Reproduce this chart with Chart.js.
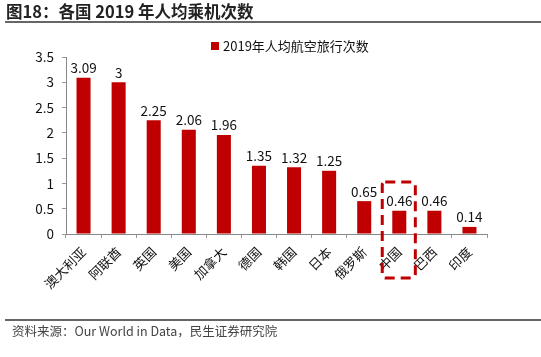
<!DOCTYPE html>
<html>
<head>
<meta charset="utf-8">
<script src="https://cdn.jsdelivr.net/npm/chart.js@4"></script>
<style>
html,body{margin:0;padding:0;background:#fff;}
#wrap{position:relative;width:541px;height:357px;}
</style>
</head>
<body>
<div id="wrap"><canvas id="c" width="541" height="357"></canvas></div>
<script>
const categories = ["澳大利亚","阿联酋","英国","美国","加拿大","德国","韩国","日本","俄罗斯","中国","巴西","印度"];
const values = [3.09, 3, 2.25, 2.06, 1.96, 1.35, 1.32, 1.25, 0.65, 0.46, 0.46, 0.14];
const valueLabels = ["3.09","3","2.25","2.06","1.96","1.35","1.32","1.25","0.65","0.46","0.46","0.14"];
const yTicks = [0, 0.5, 1, 1.5, 2, 2.5, 3, 3.5];
const yTickLabels = ["0","0.5","1","1.5","2","2.5","3","3.5"];
const seriesName = "2019年人均航空旅行次数";
const titleText = "图18：各国 2019 年人均乘机次数";
const sourceText = "资料来源：Our World in Data，民生证券研究院";
const highlight = "中国";

const FONT = '"Noto Sans CJK SC", "Open Sans", sans-serif';
const RED = '#c00000';

const decor = {
  id: 'decor',
  afterDatasetsDraw(chart) {
    const ctx = chart.ctx;
    const meta = chart.getDatasetMeta(0);
    ctx.save();
    // data labels
    ctx.fillStyle = '#111';
    ctx.font = '13.5px ' + FONT;
    ctx.textAlign = 'center';
    ctx.textBaseline = 'bottom';
    meta.data.forEach((bar, i) => {
      ctx.fillText(valueLabels[i], bar.x, bar.y - 3);
    });
    // highlight dashed rectangle
    const hi = categories.indexOf(highlight);
    const x = chart.scales.x;
    const cx = x.getPixelForValue(hi);
    const half = (x.getPixelForValue(1) - x.getPixelForValue(0)) / 2;
    const y = chart.scales.y;
    ctx.strokeStyle = RED;
    ctx.lineWidth = 3;
    ctx.setLineDash([10, 6]);
    const top = y.getPixelForValue(1.03);
    const bottom = y.bottom + 44;
    ctx.beginPath();
    ctx.roundRect(cx - half + 0.5, top, 2 * half - 2, bottom - top, 3);
    ctx.stroke();
    ctx.setLineDash([]);
    // legend
    ctx.fillStyle = RED;
    ctx.fillRect(211, 42, 8, 8);
    ctx.fillStyle = '#111';
    ctx.textAlign = 'left';
    ctx.textBaseline = 'middle';
    ctx.font = '13px ' + FONT;
    ctx.fillText(seriesName, 223, 46);
    // title
    ctx.font = 'bold 16.5px ' + FONT;
    ctx.fillStyle = '#222';
    ctx.textBaseline = 'alphabetic';
    ctx.fillText(titleText, 6, 18);
    ctx.fillStyle = '#666';
    ctx.fillRect(5, 21, 536, 2);
    // footer
    ctx.fillRect(5, 319, 536, 2);
    ctx.font = '12.5px ' + FONT;
    ctx.fillStyle = '#444';
    ctx.textBaseline = 'middle';
    ctx.fillText(sourceText, 12, 331);
    ctx.restore();
  }
};

new Chart(document.getElementById('c'), {
  type: 'bar',
  data: {
    labels: categories,
    datasets: [{
      label: seriesName,
      data: values,
      backgroundColor: RED,
      categoryPercentage: 1,
      barPercentage: 0.4
    }]
  },
  options: {
    responsive: false,
    animation: false,
    layout: { padding: { left: 0, right: 54, top: 57, bottom: 0 } },
    plugins: { legend: { display: false }, tooltip: { enabled: false } },
    scales: {
      x: {
        afterFit(s) { s.height = 123; },
        grid: { drawOnChartArea: false, drawTicks: true, tickLength: 4, color: '#999', offset: true },
        border: { color: '#888', width: 1 },
        ticks: { font: { family: FONT, size: 13 }, color: '#111', minRotation: 45, maxRotation: 45, padding: 6 }
      },
      y: {
        min: 0, max: 3.5,
        afterFit(s) { s.width = 66; },
        afterBuildTicks(s) { s.ticks = yTicks.map(v => ({ value: v })); },
        grid: { drawOnChartArea: false, drawTicks: true, tickLength: 4, color: '#999' },
        border: { color: '#888', width: 1 },
        ticks: {
          font: { family: FONT, size: 13.5 }, color: '#111', padding: 8,
          callback: (v) => yTickLabels[yTicks.indexOf(v)]
        }
      }
    }
  },
  plugins: [decor]
});
</script>
</body>
</html>
